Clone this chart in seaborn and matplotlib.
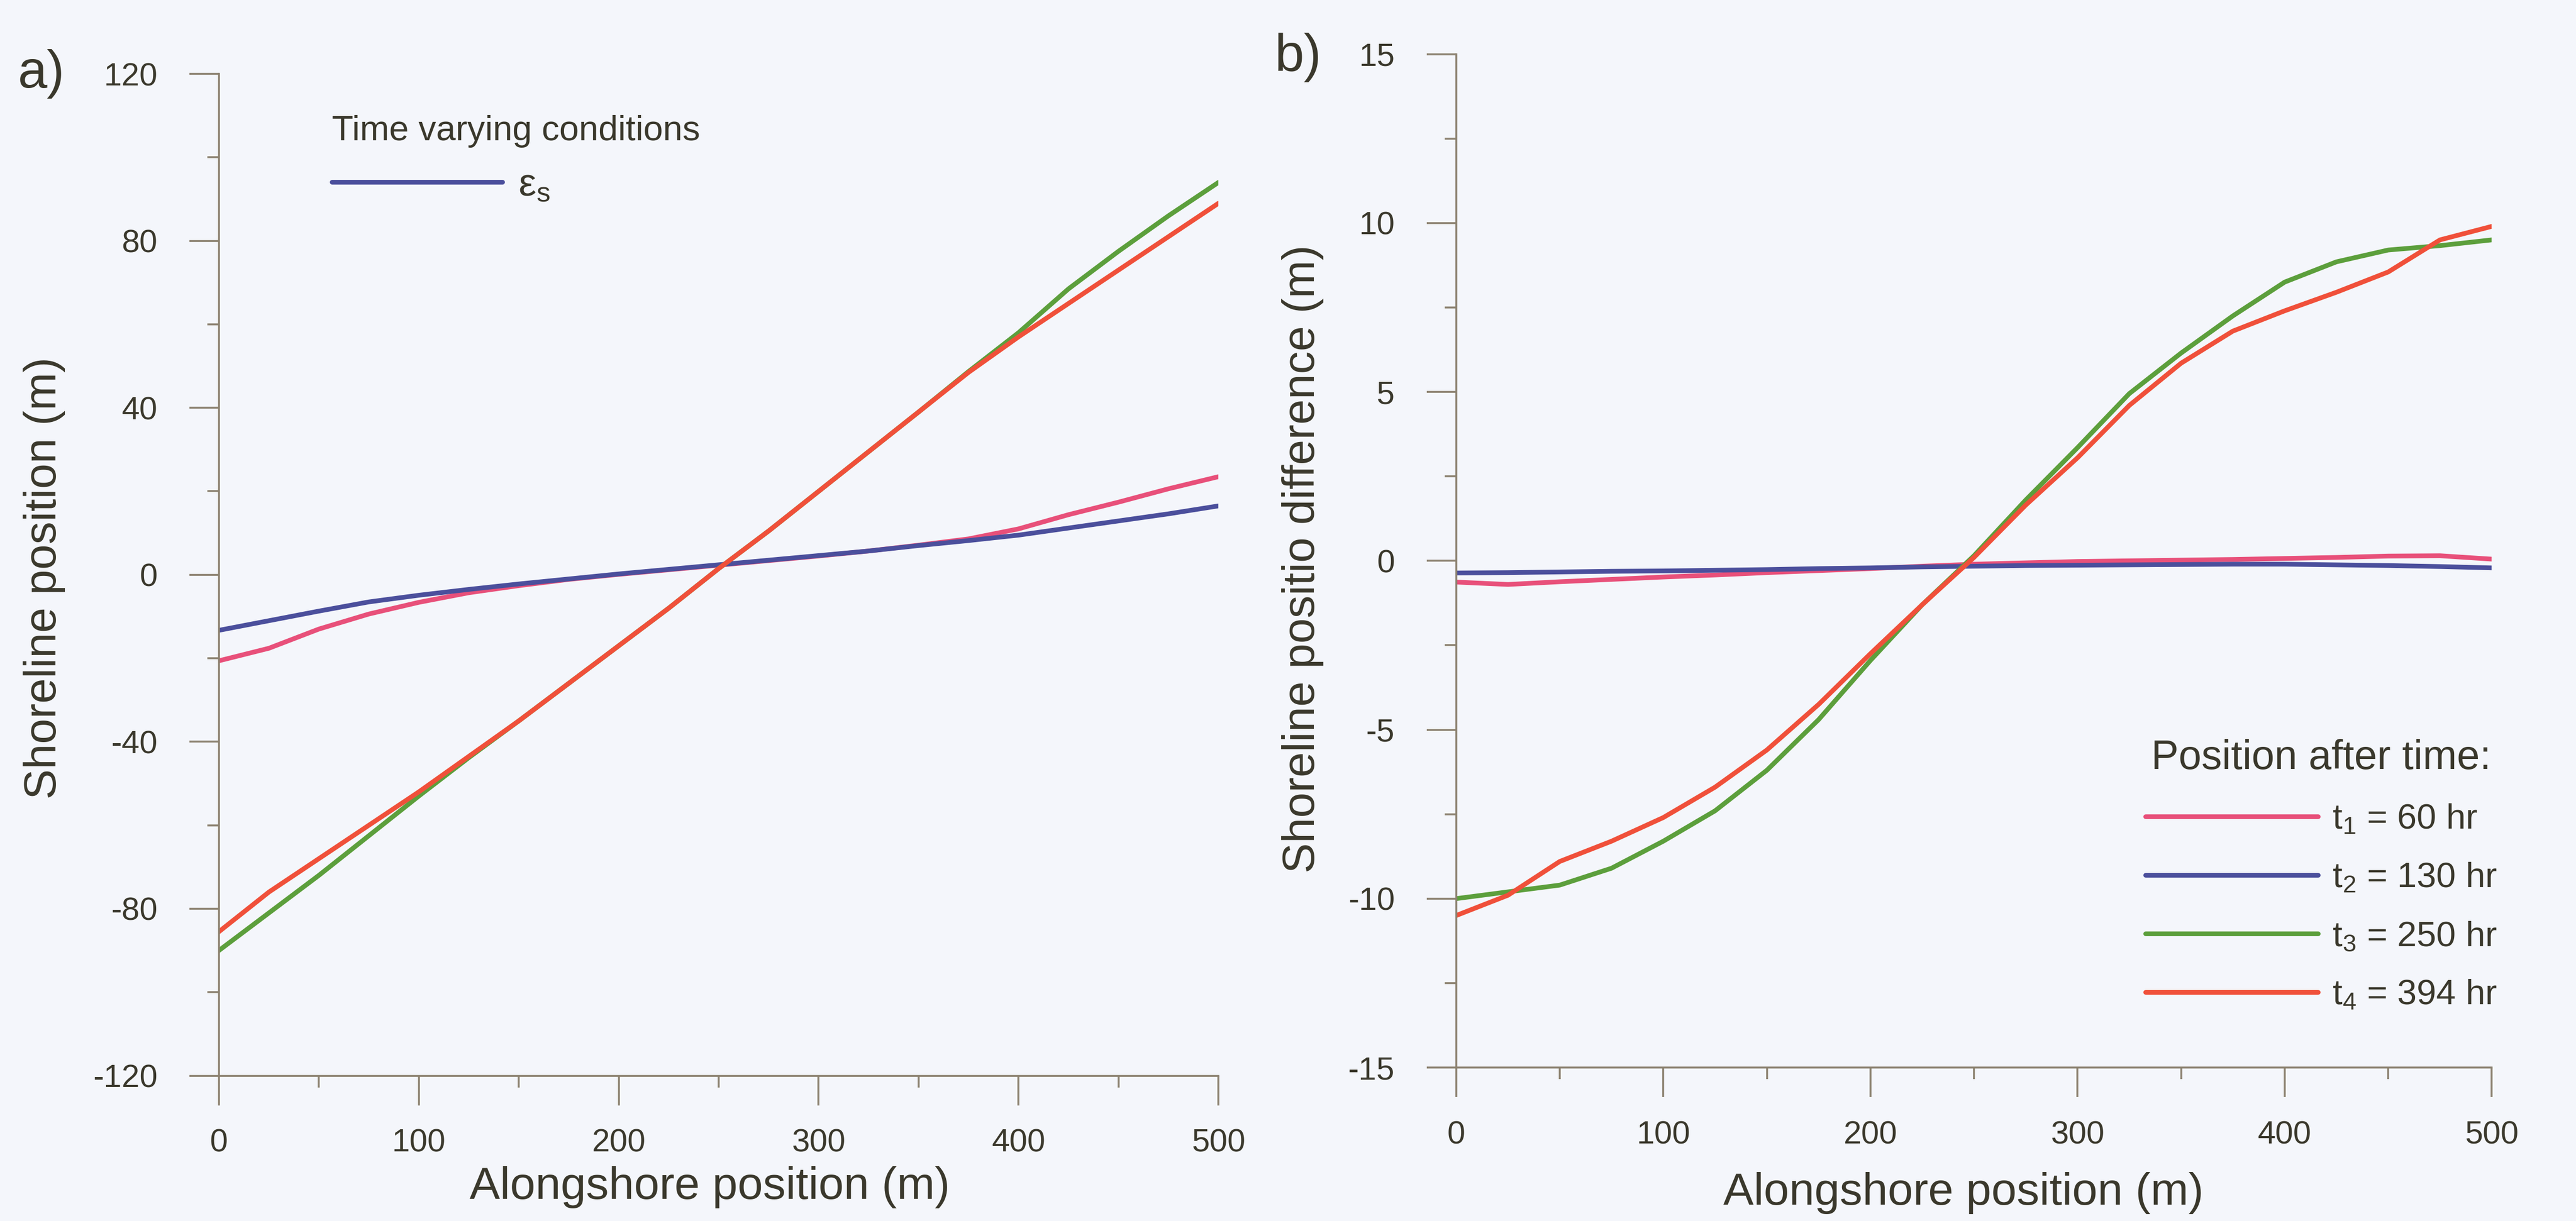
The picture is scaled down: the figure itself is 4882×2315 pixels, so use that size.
import numpy as np
import pandas as pd
import matplotlib
matplotlib.use("Agg")
import matplotlib.pyplot as plt
from matplotlib.ticker import MultipleLocator
import seaborn as sns

# ---------------- data ----------------
x_pos = [0, 25, 50, 75, 100, 125, 150, 175, 200, 225, 250, 275, 300, 325, 350, 375, 400, 425, 450, 475, 500]

# panel a: shoreline position (m)
a_t1 = [-20.6, -17.6, -13.0, -9.4, -6.6, -4.3, -2.6, -1.1, 0.1, 1.2, 2.3, 3.4, 4.5, 5.7, 7.1, 8.6, 11.0, 14.4, 17.4, 20.6, 23.5]
a_t2 = [-13.3, -11.0, -8.7, -6.5, -4.9, -3.5, -2.2, -1.0, 0.2, 1.3, 2.4, 3.5, 4.6, 5.7, 7.0, 8.2, 9.5, 11.2, 12.9, 14.6, 16.5]
a_t3 = [-90.0, -81.0, -72.0, -62.5, -53.0, -43.8, -35.0, -26.0, -17.0, -8.0, 1.5, 10.5, 20.0, 29.5, 39.0, 48.7, 58.0, 68.5, 77.5, 86.0, 94.0]
a_t4 = [-85.5, -76.0, -68.0, -60.0, -52.0, -43.5, -35.0, -26.0, -17.0, -8.0, 1.5, 10.5, 20.0, 29.5, 39.0, 48.5, 57.0, 65.0, 73.0, 81.0, 89.0]

# panel b: shoreline position difference (m)
b_t1 = [-0.63, -0.70, -0.62, -0.55, -0.48, -0.42, -0.35, -0.29, -0.23, -0.16, -0.10, -0.06, -0.02, 0.00, 0.02, 0.04, 0.07, 0.10, 0.14, 0.15, 0.05]
b_t2 = [-0.36, -0.35, -0.33, -0.31, -0.30, -0.28, -0.26, -0.23, -0.21, -0.18, -0.16, -0.14, -0.13, -0.12, -0.11, -0.10, -0.10, -0.12, -0.14, -0.17, -0.21]
b_t3 = [-10.0, -9.8, -9.6, -9.1, -8.3, -7.4, -6.2, -4.7, -2.95, -1.3, 0.15, 1.8, 3.35, 4.95, 6.15, 7.25, 8.25, 8.85, 9.2, 9.33, 9.5]
b_t4 = [-10.5, -9.9, -8.9, -8.3, -7.6, -6.7, -5.6, -4.25, -2.75, -1.3, 0.1, 1.65, 3.05, 4.6, 5.85, 6.8, 7.4, 7.95, 8.55, 9.5, 9.9]

series_names = ["t1", "t2", "t3", "t4"]
series_labels = [r"$t_1$ = 60 hr", r"$t_2$ = 130 hr", r"$t_3$ = 250 hr", r"$t_4$ = 394 hr"]
series_colors = ["#e8507a", "#4b4f9c", "#5c9f3c", "#f0503a"]

# ---------------- style ----------------
sns.set_theme(style="ticks")
plt.rcParams["font.family"] = ["Liberation Sans", "DejaVu Sans"]
plt.rcParams["mathtext.fontset"] = "custom"
plt.rcParams["mathtext.rm"] = "Liberation Sans"
plt.rcParams["mathtext.it"] = "Liberation Sans"
plt.rcParams["mathtext.default"] = "regular"
plt.rcParams["axes.unicode_minus"] = False

bg = "#f4f6fb"
txt = "#3a382c"
spine_c = "#8c8270"

fig = plt.figure(figsize=(24.41, 11.575), dpi=200)
fig.patch.set_facecolor(bg)

ax_a = fig.add_axes([0.085, 0.119, 0.388, 0.8205])
ax_b = fig.add_axes([0.5653, 0.1257, 0.402, 0.830])


def long_df(vals):
    rows = []
    for name, v in zip(series_names, vals):
        for xx, yy in zip(x_pos, v):
            rows.append({"x": xx, "y": yy, "series": name})
    return pd.DataFrame(rows)


pal = dict(zip(series_names, series_colors))
df_a = long_df([a_t1, a_t2, a_t3, a_t4])
df_b = long_df([b_t1, b_t2, b_t3, b_t4])

for ax, df in ((ax_a, df_a), (ax_b, df_b)):
    sns.lineplot(data=df, x="x", y="y", hue="series", hue_order=series_names,
                 palette=pal, ax=ax, legend=False, linewidth=3.2,
                 estimator=None, sort=False)
    ax.set_facecolor(bg)
    sns.despine(ax=ax)
    for s in ("left", "bottom"):
        ax.spines[s].set_color(spine_c)
        ax.spines[s].set_linewidth(1.3)
    ax.set_xlim(0, 500)
    ax.xaxis.set_major_locator(MultipleLocator(100))
    ax.xaxis.set_minor_locator(MultipleLocator(50))
    ax.tick_params(which="major", direction="out", length=20, width=1.3,
                   color=spine_c, labelsize=22, labelcolor=txt)
    ax.tick_params(which="minor", direction="out", length=8, width=1.3,
                   color=spine_c)
    ax.tick_params(axis="x", which="major", pad=16)
    ax.tick_params(axis="y", which="major", pad=22)

ax_a.set_ylim(-120, 120)
ax_a.yaxis.set_major_locator(MultipleLocator(40))
ax_a.yaxis.set_minor_locator(MultipleLocator(20))
ax_b.set_ylim(-15, 15)
ax_b.yaxis.set_major_locator(MultipleLocator(5))
ax_b.yaxis.set_minor_locator(MultipleLocator(2.5))

lab_kw = dict(fontsize=31, color=txt)
ax_a.set_xlabel("Alongshore position (m)", **lab_kw)
ax_a.set_ylabel("Shoreline position (m)", **lab_kw)
ax_b.set_xlabel("Alongshore position (m)", **lab_kw)
ax_b.set_ylabel("Shoreline positio difference (m)", **lab_kw)
for ax, (xx, xy), (yx, yy) in ((ax_a, (0.491, -0.1116), (-0.1747, 0.497)),
                               (ax_b, (0.49, -0.124), (-0.148, 0.502))):
    ax.xaxis.label.set_va("center")
    ax.yaxis.label.set_va("center")
    ax.xaxis.set_label_coords(xx, xy)
    ax.yaxis.set_label_coords(yx, yy)

# panel a legend
la = ax_a.legend([ax_a.lines[1]], [r"$\varepsilon_s$"], title="Time varying conditions",
                 loc="upper left", bbox_to_anchor=(0.113, 0.959), frameon=False,
                 fontsize=27, title_fontsize=24, handlelength=4.3, handletextpad=0.4,
                 borderaxespad=0, borderpad=0, alignment="left", labelcolor=txt)
la.get_title().set_color(txt)

# panel b legend
lb = ax_b.legend(ax_b.lines[:4], series_labels, title="Position after time:",
                 loc="lower right", bbox_to_anchor=(1.005, 0.055), frameon=False,
                 fontsize=24, title_fontsize=28, handlelength=4.9, handletextpad=0.4,
                 labelspacing=0.73, borderaxespad=0, borderpad=0, labelcolor=txt)
lb.get_title().set_color(txt)

fig.text(0.016, 0.9395, "a)", fontsize=36, color=txt, ha="center", va="center")
fig.text(0.504, 0.953, "b)", fontsize=36, color=txt, ha="center", va="center")

fig.savefig("out.png", dpi=200, facecolor=bg)
